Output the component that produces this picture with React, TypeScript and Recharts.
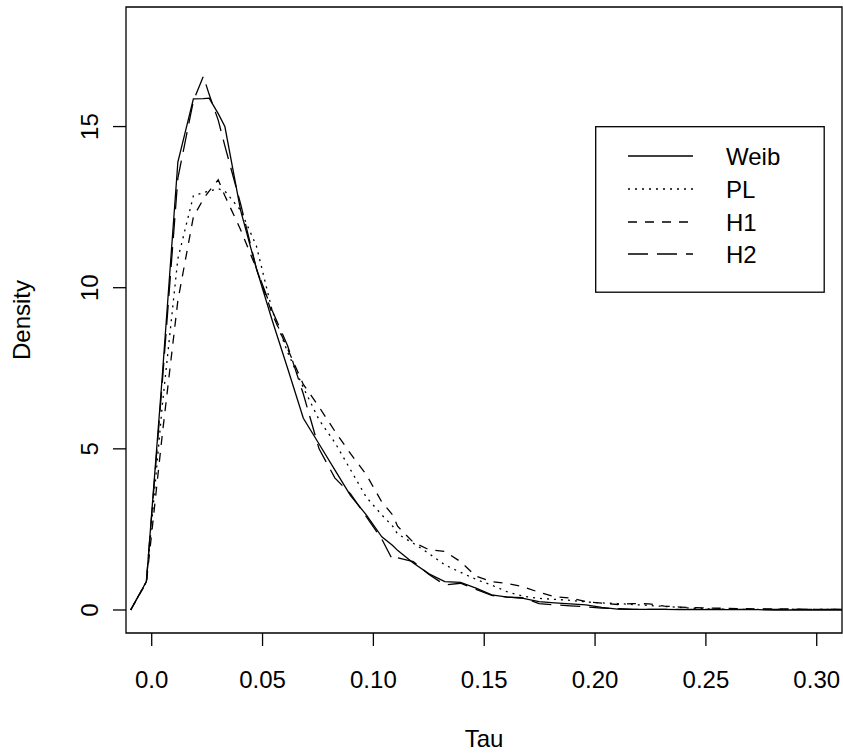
import { Legend, Line, LineChart, ReferenceArea, XAxis, YAxis } from "recharts"

// grid of tau values the densities were evaluated on
const tau = [
  -0.0095, -0.0024, 0.0047, 0.0118, 0.0188, 0.0233, 0.0259, 0.03, 0.033, 0.0401,
  0.0472, 0.0543, 0.0613, 0.0684, 0.0755, 0.0826, 0.0897, 0.0968, 0.1038, 0.1087,
  0.1109, 0.118, 0.1251, 0.1322, 0.1393, 0.1463, 0.1534, 0.1605, 0.1676, 0.1747,
  0.1818, 0.1888, 0.1959, 0.203, 0.2101, 0.2172, 0.2243, 0.2313, 0.2384, 0.2455,
  0.2526, 0.2597, 0.2668, 0.2738, 0.2809, 0.288, 0.2951, 0.3022, 0.3093, 0.3163,
]

const weib = [
  0, 0.88, 7.2, 13.9, 15.86, 15.87, 15.88, 15.4, 15.0, 12.4,
  10.6, 9.0, 7.5, 5.95, 5.15, 4.35, 3.55, 2.95, 2.27, 2.0,
  1.85, 1.46, 1.12, 0.88, 0.86, 0.68, 0.47, 0.4, 0.36, 0.26,
  0.22, 0.19, 0.16, 0.08, 0.03, 0.02, 0.02, 0.02, 0.01, 0.01,
  0.01, 0.01, 0.01, 0.01, 0, 0, 0, 0, 0, 0,
]

const pl = [
  0, 0.88, 6.3, 10.9, 12.85, 12.95, 13.0, 13.07, 13.0, 12.4,
  11.3, 9.3, 8.0, 6.9, 5.9, 5.2, 4.35, 3.5, 2.95, 2.6,
  2.36, 2.07, 1.75, 1.4, 1.17, 0.95, 0.77, 0.56, 0.43, 0.36,
  0.33, 0.3, 0.25, 0.22, 0.2, 0.17, 0.14, 0.11, 0.08, 0.05,
  0.03, 0.02, 0.02, 0.02, 0.02, 0.02, 0.02, 0.02, 0.02, 0.02,
]

const h1 = [
  0, 0.85, 5.4, 9.6, 12.2, 12.75, 13.0, 13.35, 12.85, 11.8,
  10.6, 9.2, 8.1, 7.0, 6.3, 5.55, 4.85, 4.2, 3.35, 2.95,
  2.6, 2.1, 1.87, 1.82, 1.5, 1.05, 0.88, 0.82, 0.72, 0.55,
  0.41, 0.37, 0.26, 0.21, 0.17, 0.2, 0.19, 0.12, 0.09, 0.07,
  0.06, 0.05, 0.04, 0.03, 0.03, 0.03, 0.02, 0.02, 0.02, 0.02,
]

const h2 = [
  0, 0.88, 7.0, 13.4, 15.8, 16.56, 16.0, 15.2, 14.4, 12.6,
  10.6, 9.3, 8.2, 6.7, 5.0, 4.1, 3.6, 2.9, 2.2, 1.55,
  1.62, 1.5, 1.1, 0.78, 0.83, 0.64, 0.45, 0.4, 0.38, 0.2,
  0.16, 0.13, 0.1, 0.06, 0.04, 0.02, 0.02, 0.02, 0.02, 0.02,
  0.02, 0.02, 0.02, 0.02, 0.02, 0.02, 0.02, 0.02, 0.02, 0.02,
]

const xTicks = [0, 0.05, 0.1, 0.15, 0.2, 0.25, 0.3]
const xTickLabels = ["0.0", "0.05", "0.10", "0.15", "0.20", "0.25", "0.30"]
const yTicks = [0, 5, 10, 15]

const seriesNames = ["Weib", "PL", "H1", "H2"]
const seriesKeys = ["weib", "pl", "h1", "h2"]
const seriesDash = [undefined, "2 5", "9 8", "20 9"]

const X_DOMAIN: [number, number] = [-0.0116, 0.3114]
const Y_DOMAIN: [number, number] = [-0.714, 18.71]

const FONT = "'Liberation Sans', Arial, Helvetica, sans-serif"

const data = tau.map((t, i) => ({
  tau: t,
  weib: weib[i],
  pl: pl[i],
  h1: h1[i],
  h2: h2[i],
}))

function XTick({ x, y, payload }: any) {
  const idx = xTicks.indexOf(payload.value)
  return (
    <text x={x} y={y + 40} textAnchor="middle" fontSize={24} fontFamily={FONT} fill="#000">
      {idx >= 0 ? xTickLabels[idx] : payload.value}
    </text>
  )
}

function YTick({ x, y, payload }: any) {
  const bx = x - 13
  return (
    <text
      x={bx}
      y={y}
      transform={`rotate(-90, ${bx}, ${y})`}
      textAnchor="middle"
      fontSize={24}
      fontFamily={FONT}
      fill="#000"
    >
      {payload.value}
    </text>
  )
}

function LegendBox() {
  const rowY = [30, 63, 96, 128]
  return (
    <svg width={231} height={168} style={{ display: "block" }}>
      <rect x={0.7} y={0.7} width={228.5} height={165.5} fill="#fff" stroke="#000" strokeWidth={1.3} />
      {seriesNames.map((name, i) => (
        <g key={name}>
          <line
            x1={33}
            x2={98}
            y1={rowY[i]}
            y2={rowY[i]}
            stroke="#000"
            strokeWidth={1.3}
            strokeDasharray={seriesDash[i]}
          />
          <text x={131} y={rowY[i] + 8.5} fontSize={24} fontFamily={FONT} fill="#000">
            {name}
          </text>
        </g>
      ))}
    </svg>
  )
}

export default function App() {
  return (
    <div style={{ position: "absolute", left: 0, top: 0, background: "#fff" }}>
      <LineChart width={843} height={753} data={data} margin={{ top: 7, right: 1, bottom: 0, left: 0 }}>
        <XAxis
          type="number"
          dataKey="tau"
          domain={X_DOMAIN}
          allowDataOverflow
          ticks={xTicks}
          interval={0}
          height={120}
          axisLine={false}
          tickSize={13}
          tickLine={{ stroke: "#000", strokeWidth: 1.3 }}
          tick={<XTick />}
          label={{
            value: "Tau",
            content: () => (
              <text x={484} y={747} textAnchor="middle" fontSize={24} fontFamily={FONT} fill="#000">
                Tau
              </text>
            ),
          }}
        />
        <YAxis
          type="number"
          domain={Y_DOMAIN}
          allowDataOverflow
          ticks={yTicks}
          interval={0}
          width={126}
          axisLine={false}
          tickSize={13}
          tickLine={{ stroke: "#000", strokeWidth: 1.3 }}
          tick={<YTick />}
          label={{
            value: "Density",
            content: () => (
              <text
                x={30}
                y={320}
                transform="rotate(-90, 30, 320)"
                textAnchor="middle"
                fontSize={24}
                fontFamily={FONT}
                fill="#000"
              >
                Density
              </text>
            ),
          }}
        />
        <ReferenceArea
          x1={X_DOMAIN[0]}
          x2={X_DOMAIN[1]}
          y1={Y_DOMAIN[0]}
          y2={Y_DOMAIN[1]}
          fill="none"
          stroke="#000"
          strokeWidth={1.3}
          ifOverflow="visible"
        />
        {seriesKeys.map((k, i) => (
          <Line
            key={k}
            type="linear"
            dataKey={k}
            name={seriesNames[i]}
            stroke="#000"
            strokeWidth={1.3}
            strokeDasharray={seriesDash[i]}
            dot={false}
            activeDot={false}
            isAnimationActive={false}
          />
        ))}
        <Legend
          layout="vertical"
          align="center"
          verticalAlign="middle"
          wrapperStyle={{ left: 595, top: 126, width: 231, height: 168, margin: 0, padding: 0 }}
          content={() => <LegendBox />}
        />
      </LineChart>
    </div>
  )
}
